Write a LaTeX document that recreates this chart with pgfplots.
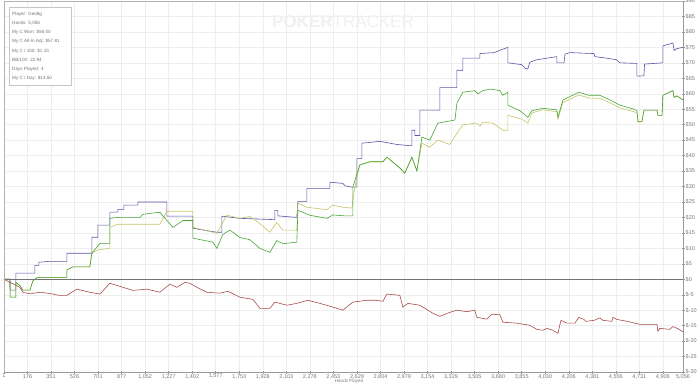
\documentclass[border=0pt]{standalone}
\usepackage{fontspec}
\setmainfont{Liberation Sans}
\usepackage{pgfplots}
\pgfplotsset{compat=1.18}
\definecolor{cblue}{HTML}{5656A6}
\definecolor{cgreen}{HTML}{46A434}
\definecolor{cyellow}{HTML}{C6C466}
\definecolor{cred}{HTML}{A84C4C}
\definecolor{txt}{HTML}{777777}
\begin{document}
\begin{tikzpicture}
\useasboundingbox (-4pt,-12pt) rectangle (696pt,372pt);
\begin{axis}[
  at={(0pt,0pt)}, anchor=south west,
  scale only axis, width=679pt, height=371pt,
  xmin=1, xmax=5056, ymin=-30, ymax=90,
  axis y line*=right,
  axis x line*=bottom,
  xtick={1,176,351,526,701,877,1052,1227,1402,1577,1753,1928,2103,2278,2453,2629,2804,2979,3154,3329,3505,3680,3855,4030,4206,4381,4556,4731,4906,5056},
  xticklabels={1,176,351,526,701,877,{1,052},{1,227},{1,402},{1,577},{1,753},{1,928},{2,103},{2,278},{2,453},{2,629},{2,804},{2,979},{3,154},{3,329},{3,505},{3,680},{3,855},{4,030},{4,206},{4,381},{4,556},{4,731},{4,906},{5,056}},
  ytick={-30,-25,...,90},
  yticklabels={\$-30,\$-25,\$-20,\$-15,\$-10,\$-5,\$0,\$5,\$10,\$15,\$20,\$25,\$30,\$35,\$40,\$45,\$50,\$55,\$60,\$65,\$70,\$75,\$80,\$85,\$90},
  ticklabel style={font=\fontsize{5.5}{6}\selectfont, text=txt},
  xticklabel style={inner sep=1pt, yshift=0.5pt},
  yticklabel style={inner sep=1pt},
  tick style={color=gray!80, line width=0.4pt},
  major tick length=3pt,
  tick align=center,
  grid=major,
  major grid style={color=gray!13, line width=0.4pt},
  axis line style={color=gray!80, line width=0.6pt},
  clip=true,
]
\addplot[cblue, line width=0.6pt] coordinates {
(1,0)(45,0)(47,-3.5)(89,-3.5)(89,2)(231,2)(231,4.5)(261,4.5)(261,5.5)(342,5.8)(469,5.8)(469,8.4)
(655,8.4)(655,13.6)(700,13.6)(700,17.5)(789,17.5)(789,21.7)(849,21.7)(849,22.6)(893,22.6)(893,24)
(998,24)(998,25)(1214,25)(1214,20.4)(1407,20.4)(1407,16.5)(1500,15.8)(1586,15.2)(1623,15.2)(1623,20.4)
(1757,19.7)(2000,19.3)(2018,19.3)(2018,22.3)(2040,22.3)(2040,20.5)(2181,20)(2189,25.2)(2256,25.2)(2256,29.4)
(2427,29.4)(2427,31.4)(2524,31)(2540,30.2)(2591,29.8)(2628,29.8)(2628,39)(2665,39)(2665,44)(2800,44.6)
(2926,43.6)(3023,43.2)(3038,43.2)(3038,48.2)(3060,48.2)(3060,46.5)(3097,46.5)(3097,54.7)(3246,54.7)(3246,62)
(3373,62)(3373,67.6)(3417,67.6)(3417,71.5)(3544,71.5)(3544,73)(3650,73.3)(3700,74.2)(3752,75)(3752,70)
(3856,69.4)(3880,68.2)(3900,68)(3916,70.2)(3968,71)(4117,72)(4117,70)(4170,70)(4177,72.8)(4214,73.3)
(4393,73)(4400,72)(4490,71.5)(4560,71)(4587,70)(4713,69.8)(4713,65.7)(4765,65.8)(4770,69.6)(4906,70)
(4906,75.5)(4981,76.4)(4990,74)(5010,74.6)(5055,75)
};
\addplot[cyellow, line width=0.6pt] coordinates {
(1,0)(45,0)(47,-5.8)(89,-5.8)(89,-1)(119,-2)(141,-3.5)(194,-3.5)(216,-0.5)(250,0.6)(469,0.6)(469,3)
(514,4)(640,4)(655,8.4)(700,9.5)(789,10)(789,16.8)(849,17.8)(1161,17.8)(1214,22)(1362,22)(1407,22)(1407,16.8)
(1586,14.9)(1660,20.7)(1757,19.7)(1831,20.3)(1906,18)(1980,15.2)(2032,18.4)(2077,15.9)(2181,15.9)(2189,24.6)
(2256,23.3)(2405,22.5)(2449,24)(2524,23.3)(2591,23)(2613,29.8)(2650,37)(2725,38)(2822,38)(2851,39.5)
(2948,36)(2985,34.3)(3038,39.5)(3075,35)(3112,44)(3171,42.7)(3231,45)(3320,43.6)(3373,47.2)(3417,50)
(3521,50.5)(3544,49.5)(3566,50.8)(3640,50.5)(3715,48.2)(3752,48.2)(3752,53)(3856,51.8)(3901,50.5)(3931,53.8)
(4013,54.8)(4117,54.2)(4125,51.8)(4162,57.2)(4281,59.6)(4356,58.6)(4437,58.5)(4512,57.1)(4587,55.4)(4690,54.2)
(4713,53.8)(4721,50.8)(4750,51)(4765,54.7)(4862,54.7)(4869,53)(4900,53)(4906,59.5)(4981,61)(4990,58.8)
(5010,59.3)(5055,58)
};
\addplot[cgreen, line width=0.6pt] coordinates {
(1,0)(45,0)(47,-5.8)(89,-5.8)(89,-1)(119,-2)(141,-3.5)(194,-3.5)(216,-0.5)(250,0.6)(469,0.6)(469,3)
(514,4)(640,4)(655,8.4)(715,11.6)(789,11.6)(789,19.7)(849,20)(1013,20)(1035,21)(1161,21.7)(1214,19)(1258,16.8)
(1333,19)(1407,19)(1407,13.3)(1556,12)(1586,10)(1630,14.5)(1683,15.9)(1757,13.5)(1831,12.8)(1906,10)
(1980,8.7)(2032,12.5)(2077,11.5)(2181,12)(2189,22.3)(2278,20.7)(2405,19.7)(2449,20.8)(2539,20.5)(2598,20.5)
(2598,29.8)(2650,37)(2725,38)(2822,38)(2851,39.5)(2948,36)(2985,34.3)(3038,39.5)(3075,35)(3112,46)
(3171,45)(3231,50.5)(3358,51.5)(3373,57)(3417,60.5)(3506,61)(3529,60)(3566,61)(3618,61.5)(3693,61)
(3715,59.5)(3752,60.5)(3752,56.3)(3842,54.5)(3901,52.4)(3931,54.5)(4013,55.3)(4117,54.8)(4125,52.4)(4162,58)
(4281,60.5)(4356,59.5)(4437,59.5)(4512,58)(4587,56.3)(4690,55)(4713,54.5)(4721,51)(4750,51)(4765,54.7)
(4862,54.7)(4869,53)(4900,53)(4906,59.5)(4981,61)(4990,58.8)(5010,59.3)(5055,58)
};
\addplot[cred, line width=0.6pt] coordinates {
(1,0)(45,-1)(75,-1.6)(119,-2.6)(141,-4.2)(180,-4.6)(231,-4.5)(268,-4.2)(342,-4.6)(410,-5.2)(469,-5.2)
(543,-3.2)(640,-4.2)(715,-4.8)(789,-1.3)(864,-2.3)(960,-3.6)(1065,-3.2)(1161,-4.2)(1236,-1.6)(1288,-2.6)
(1348,-1)(1385,-1.3)(1437,-2.6)(1511,-4.2)(1608,-4.5)(1668,-3.9)(1757,-5.8)(1854,-6.5)(1906,-9.4)(1980,-9.4)
(2018,-7.4)(2107,-8.4)(2181,-7.8)(2263,-6.8)(2353,-7.8)(2449,-9)(2524,-10)(2598,-7.4)(2703,-6.8)(2762,-6.8)
(2822,-7.1)(2851,-4.8)(2948,-5.2)(2970,-9)(3008,-7.8)(3097,-8.4)(3194,-11)(3246,-12)(3320,-10.7)(3373,-10)
(3447,-10.5)(3506,-10)(3521,-12.3)(3596,-12.9)(3633,-11.3)(3693,-11.5)(3715,-13.9)(3819,-14.2)(3916,-14.9)(3968,-16.2)
(4013,-16.5)(4043,-15.9)(4087,-16.5)(4125,-17.5)(4147,-13.3)(4192,-14.2)(4251,-14.2)(4281,-12.3)(4318,-13)(4333,-13.6)
(4393,-13.3)(4437,-12.5)(4460,-13.3)(4527,-13.6)(4534,-12.3)(4564,-13)(4639,-13.6)(4736,-14.6)(4809,-14.6)(4862,-14.6)
(4869,-16.8)(4884,-15.9)(4958,-16.2)(4981,-15.3)(5018,-16)(5055,-17)
};
\draw[gray!90!black, line width=0.6pt] (axis cs:1,0) -- (axis cs:5056,0);
\end{axis}
% left and top frame lines
\draw[gray!60, line width=0.6pt] (0pt,0pt) -- (0pt,371pt) -- (679pt,371pt);
% watermark
\node[text=gray!12, font=\fontsize{17}{17}\selectfont, inner sep=0pt] at (339pt,350pt) {\textbf{POKER}TRACKER};
% info box
\draw[gray!45, fill=white, line width=0.5pt] (5pt,287pt) rectangle (67pt,365pt);
\begin{scope}[every node/.style={anchor=west, inner sep=0pt, text=txt, font=\fontsize{4.6}{5}\selectfont}]
\node at (8pt,358pt) {Player: Geo8g};
\node at (8pt,348.8pt) {Hands: 5,056};
\node at (8pt,339.6pt) {My C Won: \$58.00};
\node at (8pt,330.4pt) {My C All-In Adj: \$57.81};
\node at (8pt,321.2pt) {My C / 100: \$1.15};
\node at (8pt,312pt) {BB/100: 22.94};
\node at (8pt,302.8pt) {Days Played: 4};
\node at (8pt,293.6pt) {My C / Day: \$14.50};
\end{scope}
\node[anchor=south, text=txt, font=\fontsize{4.5}{5}\selectfont, inner sep=0pt] at (345pt,-11.6pt) {Hands Played};
\end{tikzpicture}
\end{document}
